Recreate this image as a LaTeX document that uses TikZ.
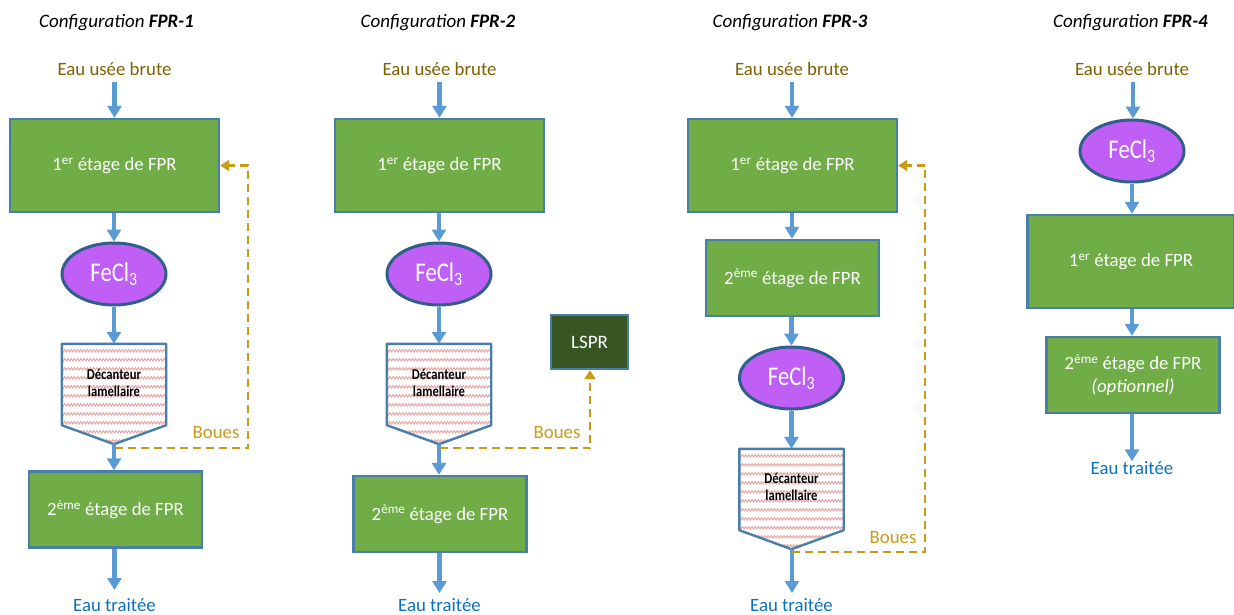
\documentclass[tikz,border=0pt]{standalone}
\usepackage{fontspec}
\setmainfont{Carlito}
\usetikzlibrary{arrows.meta,shapes.geometric,decorations.pathmorphing,calc}
\definecolor{stagegreen}{HTML}{70AD47}
\definecolor{stageedge}{HTML}{4A7EA8}
\definecolor{ovalfill}{HTML}{BF5FF5}
\definecolor{ovaledge}{HTML}{2F5F8A}
\definecolor{flowblue}{HTML}{5B9BD5}
\definecolor{inbrown}{HTML}{7F6000}
\definecolor{outblue}{HTML}{0B72BE}
\definecolor{sludge}{HTML}{C99A14}
\definecolor{lsprfill}{HTML}{375623}
\definecolor{wavered}{HTML}{E8A8A8}
\newcommand{\fecl}{\scalebox{.84}[1]{FeCl\textsubscript{3}}}
\tikzset{
  x=1pt,y=-1pt,
  stagebox/.style={draw=stageedge,line width=2.4pt,fill=stagegreen,text=white,font=\fontsize{18.8}{23}\selectfont,align=center,inner sep=0pt},
  big/.style={stagebox,minimum width=209pt,minimum height=93pt},
  small/.style={stagebox,minimum width=173pt,minimum height=76pt},
  oval/.style={ellipse,draw=ovaledge,line width=3pt,fill=ovalfill,text=white,minimum width=104pt,minimum height=62pt,inner sep=0pt,font=\fontsize{27}{29}\selectfont},
  decbox/.style={rectangle,minimum width=104pt,minimum height=100pt,inner sep=0pt},
  dectext/.style={font=\fontsize{15}{17}\selectfont\bfseries,text=black,align=center,inner sep=0pt},
  inlabel/.style={text=inbrown,font=\fontsize{18.8}{21}\selectfont,inner sep=0pt},
  outlabel/.style={text=outblue,font=\fontsize{18.8}{21}\selectfont,inner sep=0pt},
  title/.style={text=black,font=\fontsize{19}{22}\selectfont\itshape,inner sep=0pt},
  bouelabel/.style={text=sludge,font=\fontsize{18.8}{21}\selectfont,inner sep=0pt},
  flow/.style={draw=flowblue,line width=4.4pt,-{Triangle[width=14pt,length=12pt,fill=flowblue]},shorten >=0pt},
  sludgeline/.style={draw=sludge,line width=2.8pt,dash pattern=on 8pt off 5pt,-{Triangle[width=11pt,length=9pt,fill=sludge]}},
  lspr/.style={draw=stageedge,line width=2.4pt,fill=lsprfill,text=white,minimum width=77pt,minimum height=54pt,inner sep=0pt,font=\fontsize{19}{22}\selectfont},
}
\newcommand{\decshape}[1]{%
  \path[fill=white,path picture={
    \foreach \wy in {0,9,...,108}{
      \draw[wavered,line width=1pt,decorate,decoration={zigzag,amplitude=1.2pt,segment length=3.2pt}]
        ($(#1.north west)+(-4,\wy+7)$) -- ($(#1.north east)+(4,\wy+7)$);
    }}]
    (#1.north west) -- (#1.north east) -- ($(#1.south east)+(0,-19)$) -- (#1.south) -- ($(#1.south west)+(0,-19)$) -- cycle;
  \draw[draw=stageedge,line width=2.4pt,line join=round]
    (#1.north west) -- (#1.north east) -- ($(#1.south east)+(0,-19)$) -- (#1.south) -- ($(#1.south west)+(0,-19)$) -- cycle;
}
\newcommand{\dectxt}{\scalebox{.84}[1]{\begin{tabular}{@{}c@{}}Décanteur\\[0.5pt]lamellaire\end{tabular}}}
\begin{document}
\begin{tikzpicture}
\useasboundingbox (0,0) rectangle (1234,614);
% titles
\node[title] (t1) at (116.5,22.5) {Configuration \textbf{FPR-1}};
\node[title] (t2) at (438,22.5) {Configuration \textbf{FPR-2}};
\node[title] (t3) at (790,22.5) {Configuration \textbf{FPR-3}};
\node[title] (t4) at (1130.5,22.5) {Configuration \textbf{FPR-4}};
% column 1
\node[inlabel] (in1) at (114.5,69) {Eau usée brute};
\node[big] (a1) at (114.5,165.5) {1\textsuperscript{er} étage de FPR};
\node[oval] (f1) at (114,274) {\fecl};
\node[decbox] (d1) at (114,394) {};
\decshape{d1}
\node[dectext] at (114,384.5) {\dectxt};
\node[small] (b1) at (115.5,509.5) {2\textsuperscript{ème} étage de FPR};
\node[outlabel] (o1) at (114.5,605) {Eau traitée};
\coordinate (e1) at (114.5,590);
\coordinate (j1) at (114.5,448);
\coordinate (r1a) at (248,448);
\coordinate (r1b) at (248,165.5);
\node[bouelabel] (bo1) at (216,433) {Boues};
\draw[flow] (114.5,82) -- (a1.north -| 114.5,0);
\draw[flow] (a1.south -| f1) -- (f1.north);
\draw[flow] (f1.south) -- (d1.north);
\draw[flow] (d1.south) -- (b1.north -| d1);
\draw[flow] (b1.south -| e1) -- (e1);
\draw[sludgeline] (j1) -- (r1a) -- (r1b) -- (a1.east);
% column 2
\node[inlabel] (in2) at (439.5,69) {Eau usée brute};
\node[big] (a2) at (439.5,165.5) {1\textsuperscript{er} étage de FPR};
\node[oval] (f2) at (439,274) {\fecl};
\node[decbox] (d2) at (439,394) {};
\decshape{d2}
\node[dectext] at (439,384.5) {\dectxt};
\node[small] (b2) at (440,514) {2\textsuperscript{ème} étage de FPR};
\node[outlabel] (o2) at (439.5,605) {Eau traitée};
\coordinate (e2) at (439.5,593);
\coordinate (j2) at (439.5,448);
\coordinate (r2a) at (590,448);
\node[lspr] (l2) at (589.5,342) {LSPR};
\node[bouelabel] (bo2) at (557,433) {Boues};
\draw[flow] (439.5,82) -- (a2.north -| 439.5,0);
\draw[flow] (a2.south -| f2) -- (f2.north);
\draw[flow] (f2.south) -- (d2.north);
\draw[flow] (d2.south) -- (b2.north -| d2);
\draw[flow] (b2.south -| e2) -- (e2);
\draw[sludgeline] (j2) -- (r2a) -- (l2.south -| r2a);
% column 3
\node[inlabel] (in3) at (792,69) {Eau usée brute};
\node[big] (a3) at (792.5,165.5) {1\textsuperscript{er} étage de FPR};
\node[small] (c3) at (792.5,278) {2\textsuperscript{ème} étage de FPR};
\node[oval] (f3) at (791.5,378) {\fecl};
\node[decbox] (d3) at (791.5,499) {};
\decshape{d3}
\node[dectext] at (791.5,488.5) {\dectxt};
\node[outlabel] (o3) at (791.5,605) {Eau traitée};
\coordinate (e3) at (792,593);
\coordinate (j3) at (792,552);
\coordinate (r3a) at (925,552);
\coordinate (r3b) at (925,165.5);
\node[bouelabel] (bo3) at (893,538) {Boues};
\draw[flow] (792,82) -- (a3.north -| 792,0);
\draw[flow] (a3.south -| 792,0) -- (c3.north -| 792,0);
\draw[flow] (c3.south -| f3) -- (f3.north);
\draw[flow] (f3.south) -- (d3.north);
\draw[flow] (d3.south -| e3) -- (e3);
\draw[sludgeline] (j3) -- (r3a) -- (r3b) -- (a3.east);
% column 4
\node[inlabel] (in4) at (1132,69) {Eau usée brute};
\node[oval] (f4) at (1132,151) {\fecl};
\node[big,minimum width=207pt] (a4) at (1131,261.5) {1\textsuperscript{er} étage de FPR};
\node[small] (b4) at (1133,375) {2\textsuperscript{ème} étage de FPR\\\textit{(optionnel)}};
\node[outlabel] (o4) at (1132,468) {Eau traitée};
\draw[flow] (1133,82) -- (f4.north -| 1133,0);
\draw[flow] (f4.south) -- (a4.north -| f4);
\draw[flow] (a4.south -| f4) -- (b4.north -| f4);
\draw[flow] (b4.south -| f4) -- (o4.north -| f4);
\end{tikzpicture}
\end{document}
